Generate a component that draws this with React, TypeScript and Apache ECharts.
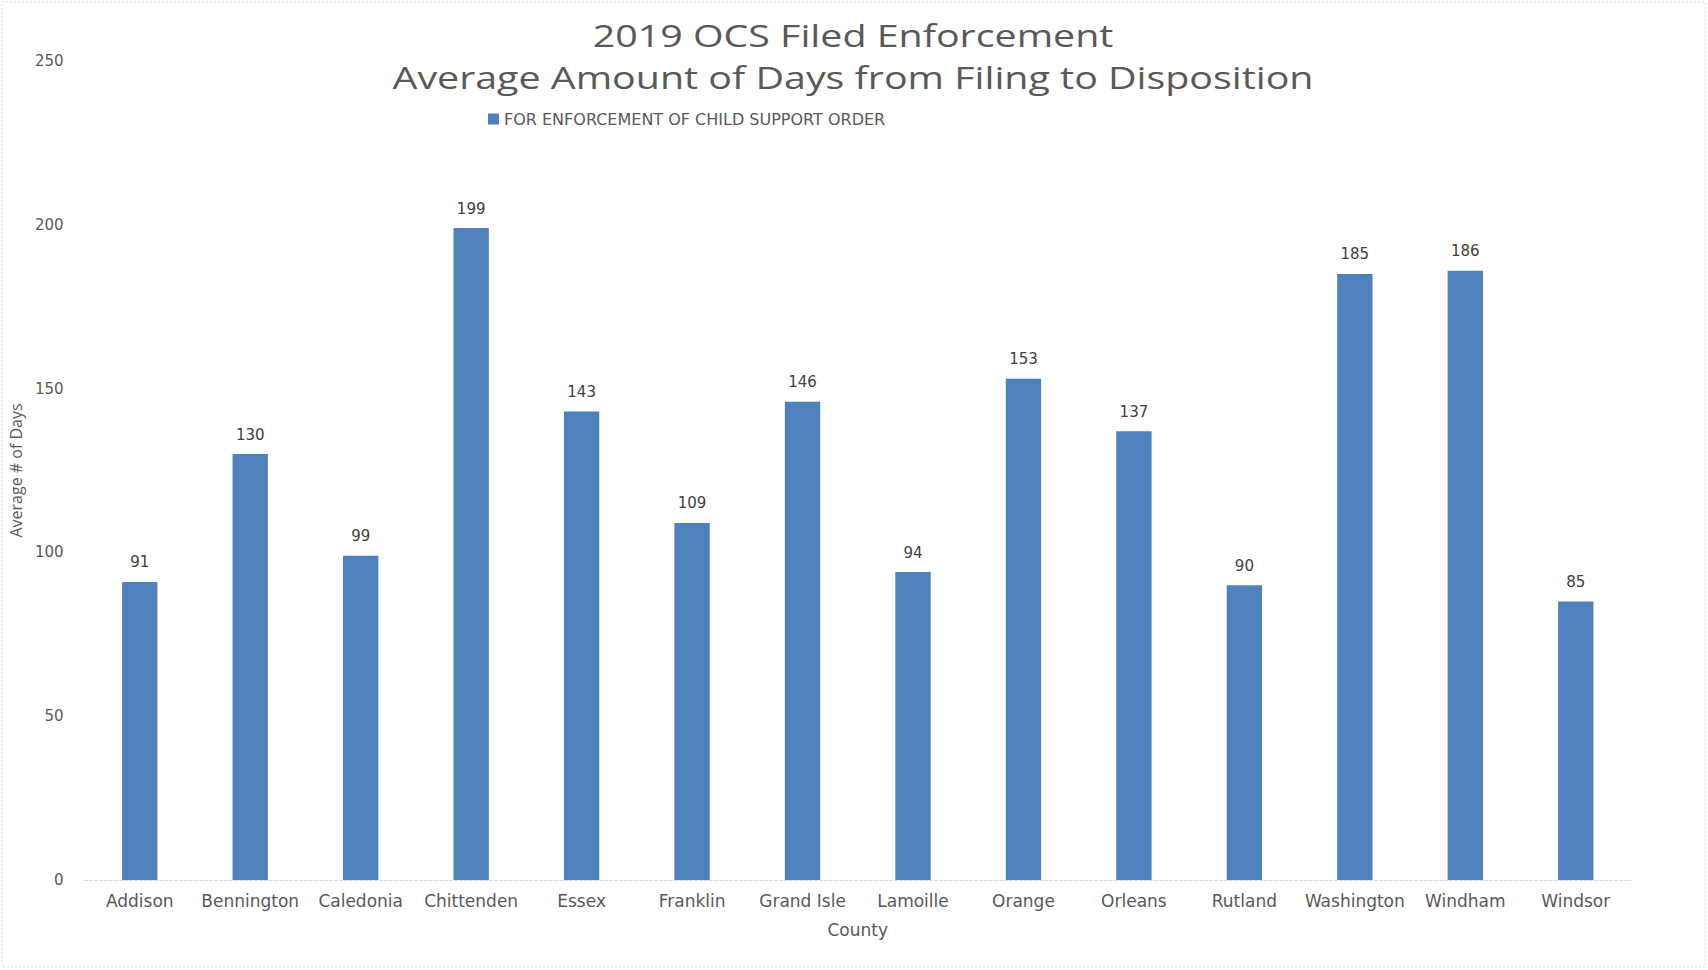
import React, { useEffect, useRef } from "react";
import * as echarts from "echarts";

const counties = [
  "Addison", "Bennington", "Caledonia", "Chittenden", "Essex", "Franklin", "Grand Isle",
  "Lamoille", "Orange", "Orleans", "Rutland", "Washington", "Windham", "Windsor",
];
const avgDays = [91, 130, 99, 199, 143, 109, 146, 94, 153, 137, 90, 185, 186, 85];
const seriesName = "FOR ENFORCEMENT OF CHILD SUPPORT ORDER";
const titleLines = ["2019 OCS Filed Enforcement", "Average Amount of Days from Filing to Disposition"];
const yMin = 0;
const yMax = 250;
const yStep = 50;

const FONT = "'Open Sans', 'Liberation Sans', sans-serif";
const WIDE = "'DejaVu Sans', 'Open Sans', sans-serif";

export default function App() {
  const ref = useRef<HTMLDivElement>(null);
  useEffect(() => {
    document.body.style.margin = "0";
    const chart = echarts.init(ref.current!, null, { renderer: "svg" });
    chart.setOption({
      animation: false,
      backgroundColor: "#ffffff",
      textStyle: { fontFamily: FONT },
      graphic: [
        {
          type: "rect",
          shape: { x: 2, y: 2, width: 1703, height: 965 },
          style: { fill: "none", stroke: "#d9d9d9", lineWidth: 1, lineDash: [2, 2] },
          silent: true,
        },
        {
          type: "text",
          x: 853,
          y: 14,
          scaleX: 1.27,
          silent: true,
          style: {
            text: titleLines.join("\n"),
            fontFamily: FONT,
            fontSize: 31,
            lineHeight: 42,
            fill: "#595959",
            align: "center",
            verticalAlign: "top",
          },
        },
      ],
      legend: {
        left: 483,
        top: 106,
        itemWidth: 11,
        itemHeight: 11,
        itemGap: 6,
        icon: "rect",
        textStyle: { fontFamily: WIDE, fontSize: 16, color: "#595959" },
        data: [seriesName],
      },
      grid: { left: 71, right: 77, top: 61, bottom: 90, containLabel: false },
      xAxis: {
        type: "category",
        data: counties,
        name: "County",
        nameLocation: "middle",
        nameGap: 41,
        nameTextStyle: { fontFamily: WIDE, fontSize: 17, color: "#595959" },
        axisLine: { show: true, lineStyle: { color: "#d9d9d9", type: [3, 2], width: 1 } },
        axisTick: { show: false },
        axisLabel: { interval: 0, fontFamily: WIDE, fontSize: 17, color: "#595959", margin: 12 },
      },
      yAxis: {
        type: "value",
        min: yMin,
        max: yMax,
        interval: yStep,
        name: "Average # of Days",
        nameLocation: "middle",
        nameGap: 48,
        nameRotate: 90,
        nameTextStyle: { fontFamily: FONT, fontSize: 16, color: "#595959" },
        axisLine: { show: false },
        axisTick: { show: false },
        splitLine: { show: false },
        axisLabel: { fontFamily: WIDE, fontSize: 15, color: "#595959", margin: 21 },
      },
      series: [
        {
          name: seriesName,
          type: "bar",
          data: avgDays,
          barWidth: "32%",
          itemStyle: { color: "#4F81BD" },
          label: {
            show: true,
            position: "top",
            distance: 12,
            fontFamily: WIDE,
            fontSize: 15,
            color: "#404040",
          },
        },
      ],
    });
    return () => chart.dispose();
  }, []);
  return (
    <div
      ref={ref}
      style={{ position: "fixed", left: 0, top: 0, width: 1708, height: 970 }}
    />
  );
}
